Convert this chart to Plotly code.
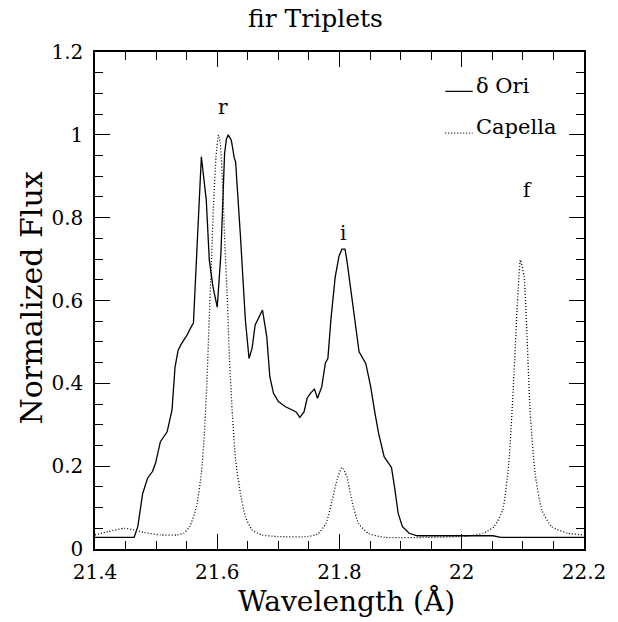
import plotly.graph_objects as go

# delta Ori (solid)
ori_wl = [21.400, 21.464, 21.470, 21.478, 21.486, 21.494, 21.499, 21.507, 21.518, 21.526,
          21.531, 21.536, 21.542, 21.550, 21.558, 21.561, 21.574, 21.578, 21.582, 21.587,
          21.593, 21.600, 21.606, 21.612, 21.615, 21.618, 21.623, 21.628, 21.630, 21.638,
          21.646, 21.652, 21.657, 21.662, 21.668, 21.674, 21.681, 21.686, 21.692, 21.700,
          21.711, 21.721, 21.729, 21.735, 21.742, 21.747, 21.753, 21.759, 21.764, 21.771,
          21.777, 21.781, 21.786, 21.793, 21.799, 21.804, 21.809, 21.812, 21.818, 21.825,
          21.832, 21.843, 21.851, 21.858, 21.864, 21.873, 21.885, 21.890, 21.896, 21.903,
          21.914, 21.927, 21.997, 22.051, 22.064, 22.200]
ori_flux = [0.028, 0.028, 0.054, 0.134, 0.171, 0.187, 0.207, 0.259, 0.283, 0.336,
            0.440, 0.480, 0.497, 0.515, 0.538, 0.545, 0.947, 0.900, 0.843, 0.698,
            0.633, 0.584, 0.714, 0.955, 0.990, 1.000, 0.987, 0.943, 0.935, 0.754,
            0.553, 0.460, 0.485, 0.541, 0.561, 0.577, 0.513, 0.416, 0.376, 0.356,
            0.344, 0.336, 0.331, 0.318, 0.331, 0.364, 0.377, 0.386, 0.364, 0.392,
            0.450, 0.460, 0.555, 0.657, 0.706, 0.724, 0.724, 0.698, 0.633, 0.545,
            0.476, 0.448, 0.392, 0.328, 0.279, 0.223, 0.197, 0.150, 0.086, 0.054,
            0.038, 0.032, 0.031, 0.032, 0.028, 0.028]

# Capella (dotted)
cap_wl = [21.400, 21.421, 21.448, 21.464, 21.480, 21.507, 21.534, 21.545, 21.555, 21.566,
          21.574, 21.579, 21.583, 21.587, 21.590, 21.594, 21.598, 21.602, 21.605, 21.609,
          21.612, 21.616, 21.620, 21.625, 21.630, 21.638, 21.646, 21.657, 21.673, 21.700,
          21.748, 21.764, 21.778, 21.788, 21.796, 21.804, 21.812, 21.820, 21.831, 21.847,
          21.874, 21.943, 22.008, 22.035, 22.053, 22.067, 22.077, 22.085, 22.091, 22.096,
          22.102, 22.107, 22.112, 22.120, 22.131, 22.147, 22.174, 22.200]
cap_flux = [0.034, 0.042, 0.050, 0.046, 0.040, 0.034, 0.034, 0.038, 0.054, 0.102,
            0.183, 0.279, 0.400, 0.561, 0.674, 0.835, 0.947, 1.000, 0.980, 0.875,
            0.754, 0.620, 0.460, 0.319, 0.215, 0.134, 0.078, 0.046, 0.034, 0.030,
            0.030, 0.036, 0.062, 0.118, 0.167, 0.197, 0.175, 0.118, 0.062, 0.038,
            0.028, 0.028, 0.031, 0.038, 0.054, 0.094, 0.207, 0.408, 0.593, 0.698,
            0.657, 0.505, 0.328, 0.183, 0.094, 0.054, 0.038, 0.034]

x_ticks = [21.4, 21.6, 21.8, 22.0, 22.2]
x_ticklabels = ["21.4", "21.6", "21.8", "22", "22.2"]
y_ticks = [0, 0.2, 0.4, 0.6, 0.8, 1.0, 1.2]
y_ticklabels = ["0", "0.2", "0.4", "0.6", "0.8", "1", "1.2"]

line_labels = ["r", "i", "f"]
line_label_x = [21.609, 21.805, 22.107]
line_label_y = [1.067, 0.763, 0.867]

legend_names = ["\u03b4 Ori", "Capella"]

FONT = "DejaVu Serif"

fig = go.Figure()
fig.add_trace(go.Scatter(x=ori_wl, y=ori_flux, mode="lines",
                         line=dict(color="black", width=1.3), showlegend=False))
fig.add_trace(go.Scatter(x=cap_wl, y=cap_flux, mode="lines",
                         line=dict(color="black", width=1.3, dash="1px,2px",
                                   shape="spline", smoothing=0.5),
                         showlegend=False))

# manual legend
leg_x = [21.973, 22.018]
fig.add_trace(go.Scatter(x=leg_x, y=[1.105, 1.105], mode="lines",
                         line=dict(color="black", width=1.2), showlegend=False))
fig.add_trace(go.Scatter(x=leg_x, y=[1.004, 1.004], mode="lines",
                         line=dict(color="black", width=1.2, dash="1px,2px"), showlegend=False))

annotations = []
for t, lx, ly in zip(line_labels, line_label_x, line_label_y):
    annotations.append(dict(x=lx, y=ly, xref="x", yref="y", text=t, showarrow=False,
                            font=dict(family=FONT, size=20, color="black")))
annotations.append(dict(x=22.020, y=1.118, xref="x", yref="y", text=legend_names[0],
                        showarrow=False, xanchor="left", yanchor="middle",
                        font=dict(family=FONT, size=21, color="black")))
annotations.append(dict(x=22.020, y=1.019, xref="x", yref="y", text=legend_names[1],
                        showarrow=False, xanchor="left", yanchor="middle",
                        font=dict(family=FONT, size=21, color="black")))
# titles
annotations.append(dict(x=0.45, y=1.068, xref="paper", yref="paper", text="fir Triplets",
                        showarrow=False, xanchor="center", yanchor="middle",
                        font=dict(family=FONT, size=25, color="black")))
annotations.append(dict(x=0.515, y=-0.106, xref="paper", yref="paper", text="Wavelength (\u00c5)",
                        showarrow=False, xanchor="center", yanchor="middle", borderpad=0,
                        font=dict(family=FONT, size=28, color="black")))
annotations.append(dict(x=-0.13, y=0.505, xref="paper", yref="paper", text="Normalized Flux",
                        showarrow=False, xanchor="center", yanchor="middle", textangle=-90,
                        font=dict(family=FONT, size=30, color="black")))

axis_common = dict(showgrid=False, zeroline=False, showline=True, linecolor="black",
                   linewidth=1.5, mirror="ticks", ticks="inside", ticklen=15,
                   tickwidth=1.2, tickcolor="black",
                   tickfont=dict(family=FONT, size=20, color="black"))

fig.update_xaxes(range=[21.4, 22.2], tickvals=x_ticks, ticktext=x_ticklabels,
                 ticklabelstandoff=4,
                 minor=dict(dtick=0.05, tick0=21.4, ticks="inside", ticklen=8,
                            tickwidth=1.2, tickcolor="black"),
                 **axis_common)
fig.update_yaxes(range=[0, 1.2], tickvals=y_ticks, ticktext=y_ticklabels,
                 ticklabelstandoff=6,
                 minor=dict(dtick=0.05, tick0=0, ticks="inside", ticklen=8,
                            tickwidth=1.2, tickcolor="black"),
                 **axis_common)

fig.update_layout(width=618, height=622,
                  margin=dict(l=95, r=25, t=52, b=73),
                  paper_bgcolor="white", plot_bgcolor="white",
                  showlegend=False, annotations=annotations)

fig.write_html("out.html")
